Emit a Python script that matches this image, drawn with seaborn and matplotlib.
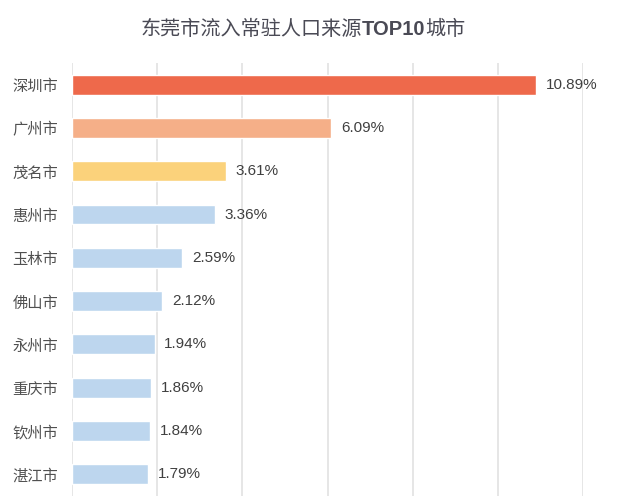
import pandas as pd
import seaborn as sns
import matplotlib

matplotlib.use("Agg")
import matplotlib.pyplot as plt

# 数据
cities = ["深圳市", "广州市", "茂名市", "惠州市", "玉林市", "佛山市", "永州市", "重庆市", "钦州市", "湛江市"]
shares = [10.89, 6.09, 3.61, 3.36, 2.59, 2.12, 1.94, 1.86, 1.84, 1.79]
bar_colors = ["#EE694B", "#F5AF88", "#FBD27B"] + ["#BDD6EE"] * 7
x_ticks = [0, 2, 4, 6, 8, 10, 12]

df = pd.DataFrame({"city": cities, "share": shares})

sns.set_theme(style="white")
plt.rcParams["font.family"] = ["Noto Sans CJK SC", "DejaVu Sans"]

fig = plt.figure(figsize=(6.17, 5.03), dpi=100)
ax = fig.add_axes([0.1167, 0.0139, 0.8282, 0.861])

sns.barplot(
    data=df,
    x="share",
    y="city",
    hue="city",
    palette=bar_colors,
    orient="h",
    width=0.46,
    legend=False,
    saturation=1,
    ax=ax,
    zorder=3,
)

for c in ax.containers:
    ax.bar_label(
        c,
        labels=["%.2f%%" % v for v in c.datavalues],
        padding=7,
        fontsize=11,
        color="#404040",
        family=["Liberation Sans", "DejaVu Sans"],
    )

ax.set_xlim(0, 12)
ax.set_xticks(x_ticks)
ax.set_xticklabels([])
ax.grid(axis="x", color="#e4e4e4", linewidth=1.3, zorder=0)
ax.grid(axis="y", visible=False)
for s in ax.spines.values():
    s.set_visible(False)
ax.tick_params(axis="both", length=0)
ax.tick_params(axis="y", labelsize=11, labelcolor="#505050", pad=10)
ax.set_xlabel("")
ax.set_ylabel("")

# 标题：TOP10 加粗
title_y = 0.93
title_color = "#4a4a55"
parts = [
    ("东莞市流入常驻人口来源", "normal", ["Noto Sans CJK SC", "DejaVu Sans"]),
    ("TOP10", "bold", ["Liberation Sans", "DejaVu Sans"]),
    ("城市", "normal", ["Noto Sans CJK SC", "DejaVu Sans"]),
]
texts = [
    fig.text(0, title_y, s, fontsize=14.5, fontweight=w, family=f, color=title_color, va="baseline")
    for s, w, f in parts
]
fig.canvas.draw()
r = fig.canvas.get_renderer()
widths = [t.get_window_extent(r).width / fig.bbox.width for t in texts]
x0 = 0.491 - sum(widths) / 2
for t, w in zip(texts, widths):
    t.set_x(x0)
    x0 += w

plt.savefig("out.png", dpi=100)
